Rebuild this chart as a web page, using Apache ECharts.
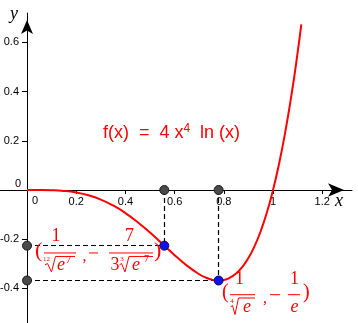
<!DOCTYPE html>
<html><head><meta charset="utf-8">
<script src="https://cdn.jsdelivr.net/npm/echarts@6/dist/echarts.min.js"></script>
<style>html,body{margin:0;padding:0;background:#fff}#c{width:358px;height:323px}</style>
</head><body><div id="c"></div>
<script>
// curve samples of f(x) = 4 x^4 ln(x)
const curveX = [0,0.05,0.1,0.15,0.2,0.25,0.3,0.35,0.4,0.45,0.5,0.55,0.6,0.65,0.7,0.725,0.75,0.775,0.8,0.825,0.85,0.875,0.9,0.925,0.95,0.975,1,1.025,1.05,1.075,1.1,1.115];
const curveY = [0,-0.0001,-0.0009,-0.0038,-0.0103,-0.0217,-0.0390,-0.0630,-0.0938,-0.1310,-0.1733,-0.2188,-0.2648,-0.3076,-0.3426,-0.3554,-0.3641,-0.3678,-0.3656,-0.3565,-0.3393,-0.3131,-0.2765,-0.2283,-0.1671,-0.0915,0,0.1090,0.2372,0.3863,0.5582,0.6730];
const xTicks = [0.2,0.4,0.6,0.8,1,1.2];
const yTicks = [-0.4,-0.2,0.2,0.4,0.6];
const inflection = [0.5580,-0.2263];
const minimum = [0.7788,-0.3679];
const xRange = [-0.1098,1.321];
const yRange = [-0.5407,0.7195];

const red = '#ff0000';
const sans = '"Liberation Sans", Arial, sans-serif';
const serif = '"Liberation Serif", "DejaVu Serif", serif';

const W = 358, H = 323, gl = 0, gr = 6, gt = 13, gb = 0;
const gw = W - gl - gr, gh = H - gt - gb;
// pixel offsets so axes pass through the origin
const xAxisOffset = -(gh * (0 - yRange[0]) / (yRange[1] - yRange[0]));
const yAxisOffset = -(gw * (0 - xRange[0]) / (xRange[1] - xRange[0]));

const chart = echarts.init(document.getElementById('c'));
chart.setOption({
  animation:false,
  backgroundColor:'#fff',
  grid:{left:gl,right:gr,top:gt,bottom:gb,containLabel:false,outerBoundsMode:'none'},
  xAxis:{type:'value',min:xRange[0],max:xRange[1],position:'bottom',offset:xAxisOffset,
    axisLine:{onZero:false,lineStyle:{color:'#000',width:1},symbol:['none','arrow'],symbolSize:[10,16],symbolOffset:[0,-8]},
    axisTick:{show:true,customValues:xTicks,length:4,lineStyle:{color:'#000'}},
    axisLabel:{customValues:xTicks,margin:6,color:'#000',fontSize:11,fontFamily:sans,formatter:v=>String(+(+v).toFixed(1))},
    splitLine:{show:false}},
  yAxis:{type:'value',min:yRange[0],max:yRange[1],position:'left',offset:yAxisOffset,
    axisLine:{onZero:false,lineStyle:{color:'#000',width:1},symbol:['none','arrow'],symbolSize:[9,14],symbolOffset:[0,-7]},
    axisTick:{show:true,customValues:yTicks,length:5,lineStyle:{color:'#000'}},
    axisLabel:{customValues:yTicks,margin:8,color:'#000',fontSize:11,fontFamily:sans,formatter:v=>String(+(+v).toFixed(1))},
    splitLine:{show:false}},
  series:[
    {type:'lines',coordinateSystem:'cartesian2d',z:1,silent:true,
     lineStyle:{color:'#000',width:1.2,type:[5,3],opacity:1},
     data:[
      {coords:[[inflection[0],0],inflection]},
      {coords:[[minimum[0],0],minimum]},
      {coords:[[0,inflection[1]],inflection]},
      {coords:[[0,minimum[1]],minimum]}
     ]},
    {type:'line',z:3,smooth:true,symbol:'none',clip:true,
     lineStyle:{color:red,width:2},
     data:curveX.map((x,i)=>[x,curveY[i]])},
    {type:'scatter',z:4,symbolSize:9,
     itemStyle:{color:'#4a4a4a',borderColor:'#1a1a1a',borderWidth:1,opacity:1},
     data:[[inflection[0],0],[minimum[0],0],[0,inflection[1]],[0,minimum[1]]]},
    {type:'scatter',z:5,symbolSize:9,
     itemStyle:{color:'#1010ee',borderColor:'#0a0a50',borderWidth:1,opacity:1},
     data:[inflection,minimum]}
  ]
});

const O = chart.convertToPixel({gridIndex:0},[0,0]);
const P1 = chart.convertToPixel({gridIndex:0},inflection);
const P2 = chart.convertToPixel({gridIndex:0},minimum);

function T(text,x,y,size,opt){
  opt = opt||{};
  return {type:'text',x:x,y:y,silent:true,z:100,style:{text:text,fill:opt.fill||red,
    font:(opt.italic?'italic ':'')+size+'px '+(opt.family||serif),
    align:opt.align||'center',textAlign:opt.align||'center',
    verticalAlign:'middle',textVerticalAlign:'middle'}};
}
function L(x1,x2,y){
  return {type:'line',silent:true,z:100,shape:{x1:x1,y1:y,x2:x2,y2:y},style:{stroke:red,lineWidth:1}};
}
function R(pts){
  return {type:'polyline',silent:true,z:100,shape:{points:pts},style:{stroke:red,fill:null,lineWidth:1,lineJoin:'miter'}};
}

const g1 = [
  T('(',-129.3,5.3,22,{align:'left'}),
  T('1',-108.3,-9.7,18),
  L(-120.3,-88.3,7.3),
  T('12',-117.8,13.8,7),
  R([[-119.3,19.3],[-116.8,17.8],[-112.8,26.3],[-108.8,10.8],[-89.3,10.8]]),
  T('e',-103.3,19.3,18,{italic:true}),
  T('7',-95.8,14.3,10),
  T(',',-79.8,11.3,16),
  L(-75.3,-66.3,7.3),
  T('7',-34.8,-9.7,18),
  L(-55.3,-11.3,7.3),
  T('3',-49.3,19.3,18),
  T('3',-42.3,13.3,7),
  R([[-44.8,19.3],[-42.8,17.8],[-39.3,26.3],[-35.3,10.8],[-11.3,10.8]]),
  T('e',-28.3,19.3,18,{italic:true}),
  T('7',-17.8,13.8,10),
  T(')',-10.3,5.3,22,{align:'left'})
];
const g2 = [
  T('(',3.4,12,20,{align:'left'}),
  T('1',20.9,-1.5,18),
  L(11.4,36.4,14.2),
  T('4',13.4,20.5,7),
  R([[11.9,26.5],[13.9,25],[16.4,34],[19.9,17.5],[36.4,17.5]]),
  T('e',28.4,26.5,18,{italic:true}),
  T(',',46.4,18.5,16),
  L(51.4,61.4,14.2),
  T('1',75.9,-1.5,18),
  L(69.4,81.4,14.2),
  T('e',75.9,26.5,18,{italic:true}),
  T(')',84.4,12,20,{align:'left'})
];

chart.setOption({graphic:{elements:[
  {type:'group',x:P1[0],y:P1[1],children:g1},
  {type:'group',x:P2[0],y:P2[1],children:g2},
  T('0',O[0]+8,O[1]+11,11,{fill:'#000',family:sans}),
  T('0',O[0]-9,O[1]-6,11,{fill:'#000',family:sans}),
  T('y',O[0]-13,14,18,{fill:'#000',italic:true}),
  T('x',O[0]+312,O[1]+11,18,{fill:'#000',italic:true}),
  {type:'text',x:171.5,y:133,silent:true,z:100,style:{
    text:'f(x)  =  4 x{s|4}  ln (x)',fill:red,font:'18px '+sans,
    align:'center',textAlign:'center',verticalAlign:'middle',textVerticalAlign:'middle',
    rich:{s:{fontSize:12,fontFamily:sans,fill:red,color:red,verticalAlign:'top',padding:[0,0,8,0]}}}}
]}});
</script></body></html>
